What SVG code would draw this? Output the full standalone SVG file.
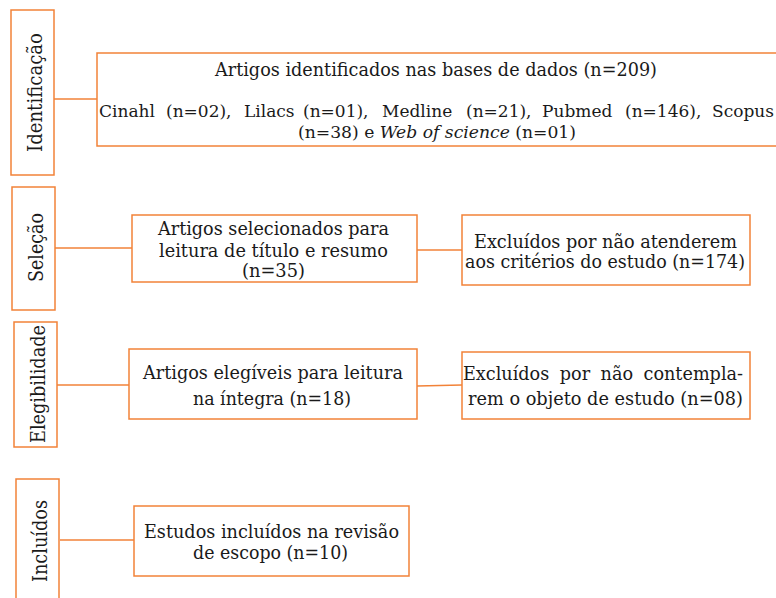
<svg xmlns="http://www.w3.org/2000/svg" width="776" height="598" viewBox="0 0 776 598">
<style>
.box{fill:#fff;stroke:#F28238;stroke-width:1.5}
.con{stroke:#F28238;stroke-width:1.5;fill:none}
text{font-family:"DejaVu Serif","Liberation Serif",serif;font-size:18px;fill:#1a1a1a}
.lbl{font-size:21px}
.just{word-spacing:5px}
.s17{font-size:17px}
</style>
<rect width="776" height="598" fill="#fff"/>
<g id="connectors">
<line class="con" x1="54" y1="99" x2="97" y2="99"/>
<line class="con" x1="55" y1="248" x2="132" y2="248"/>
<line class="con" x1="417" y1="250" x2="462" y2="250"/>
<line class="con" x1="57" y1="385" x2="129" y2="385"/>
<line class="con" x1="417" y1="386" x2="462" y2="385"/>
<line class="con" x1="60" y1="540" x2="134" y2="540"/>
</g>
<g id="stage-identificacao">
<rect class="box" x="11" y="10" width="43" height="165"/>
<text class="lbl" transform="translate(42,152) rotate(-90)" textLength="119" lengthAdjust="spacingAndGlyphs">Identificação</text>
</g>
<g id="stage-selecao">
<rect class="box" x="12" y="187" width="43" height="123"/>
<text class="lbl" transform="translate(43,282) rotate(-90)" textLength="69" lengthAdjust="spacingAndGlyphs">Seleção</text>
</g>
<g id="stage-elegibilidade">
<rect class="box" x="14" y="322" width="43" height="125"/>
<text class="lbl" transform="translate(45,443) rotate(-90)" textLength="118" lengthAdjust="spacingAndGlyphs">Elegibilidade</text>
</g>
<g id="stage-incluidos">
<rect class="box" x="16" y="479" width="43" height="130"/>
<text class="lbl" transform="translate(47,582) rotate(-90)" textLength="82" lengthAdjust="spacingAndGlyphs">Incluídos</text>
</g>
<g id="identificados">
<rect class="box" x="97" y="53" width="690" height="93"/>
<text x="215" y="76" textLength="442" lengthAdjust="spacingAndGlyphs">Artigos identificados nas bases de dados (n=209)</text>
<text class="s17" y="117"><tspan x="99">Cinahl</tspan> <tspan x="166">(n=02),</tspan> <tspan x="244">Lilacs</tspan> <tspan x="303">(n=01),</tspan> <tspan x="382">Medline</tspan> <tspan x="466">(n=21),</tspan> <tspan x="542">Pubmed</tspan> <tspan x="625">(n=146),</tspan> <tspan x="712">Scopus</tspan></text>
<text class="s17" x="298" y="138" textLength="278" lengthAdjust="spacingAndGlyphs">(n=38) e <tspan font-style="italic">Web of science</tspan> (n=01)</text>
</g>
<g id="selecionados">
<rect class="box" x="132" y="215" width="285" height="67"/>
<text x="158" y="235" textLength="231" lengthAdjust="spacingAndGlyphs">Artigos selecionados para</text>
<text x="159" y="257" textLength="229" lengthAdjust="spacingAndGlyphs">leitura de título e resumo</text>
<text x="242" y="277" textLength="63" lengthAdjust="spacingAndGlyphs">(n=35)</text>
</g>
<g id="excluidos-1">
<rect class="box" x="462" y="215" width="288" height="70"/>
<text x="474" y="248" textLength="263" lengthAdjust="spacingAndGlyphs">Excluídos por não atenderem</text>
<text x="465" y="268" textLength="280" lengthAdjust="spacingAndGlyphs">aos critérios do estudo (n=174)</text>
</g>
<g id="elegiveis">
<rect class="box" x="129" y="349" width="288" height="70"/>
<text x="143" y="379" textLength="260" lengthAdjust="spacingAndGlyphs">Artigos elegíveis para leitura</text>
<text x="193" y="405" textLength="158" lengthAdjust="spacingAndGlyphs">na íntegra (n=18)</text>
</g>
<g id="excluidos-2">
<rect class="box" x="462" y="352" width="288" height="67"/>
<text class="just" x="463" y="380" textLength="280" lengthAdjust="spacingAndGlyphs">Excluídos por não contempla-</text>
<text x="468" y="405" textLength="275" lengthAdjust="spacingAndGlyphs">rem o objeto de estudo (n=08)</text>
</g>
<g id="incluidos">
<rect class="box" x="134" y="506" width="275" height="70"/>
<text x="144" y="538" textLength="255" lengthAdjust="spacingAndGlyphs">Estudos incluídos na revisão</text>
<text x="193" y="559" textLength="155" lengthAdjust="spacingAndGlyphs">de escopo (n=10)</text>
</g>
</svg>
